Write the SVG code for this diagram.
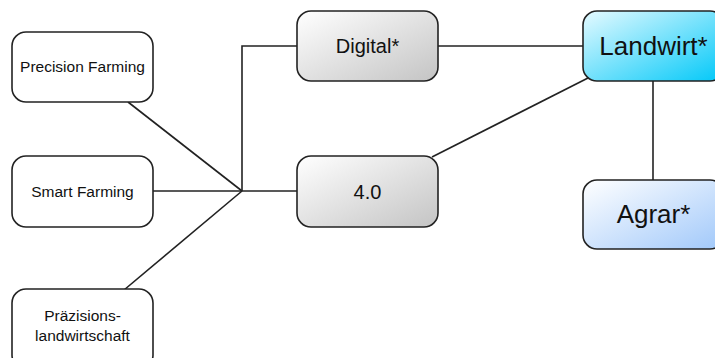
<svg xmlns="http://www.w3.org/2000/svg" width="715" height="358" viewBox="0 0 715 358">
<style>
.box{stroke:#222;stroke-width:1.6}
.w{fill:#fff}
.t{font-family:"Liberation Sans",Arial,sans-serif;fill:#111;text-anchor:middle}
.s{font-size:15.5px}
.m{font-size:20px}
.l{font-size:26px}
.c{fill:none;stroke:#222;stroke-width:1.6}
</style>
<defs>
<linearGradient id="gGray" x1="0" y1="0" x2="1" y2="1">
<stop offset="0" stop-color="#ffffff"/>
<stop offset="1" stop-color="#c4c4c4"/>
</linearGradient>
<linearGradient id="gCyan" x1="0" y1="0" x2="1" y2="1">
<stop offset="0" stop-color="#e6faff"/>
<stop offset="1" stop-color="#00c8f8"/>
</linearGradient>
<linearGradient id="gBlue" x1="0" y1="0" x2="1" y2="1">
<stop offset="0" stop-color="#ffffff"/>
<stop offset="1" stop-color="#a0c8fa"/>
</linearGradient>
</defs>
<g id="connectors">
<line class="c" x1="128" y1="102" x2="242" y2="191"/>
<line class="c" x1="153" y1="191" x2="297" y2="191"/>
<line class="c" x1="124" y1="290" x2="242" y2="191"/>
<polyline class="c" points="242,191 242,46 297,46"/>
<line class="c" x1="438" y1="46" x2="583" y2="46"/>
<line class="c" x1="432" y1="157" x2="588" y2="78"/>
<line class="c" x1="653" y1="81" x2="653" y2="180"/>
</g>
<g id="precision">
<rect class="box w" x="12" y="32" width="141" height="70" rx="14"/>
<text class="t s" x="82.5" y="72">Precision Farming</text>
</g>
<g id="smart">
<rect class="box w" x="12" y="156" width="141" height="71" rx="14"/>
<text class="t s" x="82.5" y="197">Smart Farming</text>
</g>
<g id="praezision">
<rect class="box w" x="12" y="289" width="141" height="80" rx="14"/>
<text class="t s" x="82.5" y="321">Präzisions-</text>
<text class="t s" x="82.5" y="341">landwirtschaft</text>
</g>
<g id="digital">
<rect class="box" fill="url(#gGray)" x="297" y="11" width="141" height="70" rx="14"/>
<text class="t m" x="367.5" y="53">Digital*</text>
</g>
<g id="viernull">
<rect class="box" fill="url(#gGray)" x="297" y="156" width="141" height="71" rx="14"/>
<text class="t m" x="367.5" y="199">4.0</text>
</g>
<g id="landwirt">
<rect class="box" fill="url(#gCyan)" x="583" y="11" width="141" height="70" rx="14"/>
<text class="t l" x="653.5" y="55">Landwirt*</text>
</g>
<g id="agrar">
<rect class="box" fill="url(#gBlue)" x="583" y="180" width="141" height="69" rx="14"/>
<text class="t l" x="653.5" y="223">Agrar*</text>
</g>
</svg>
